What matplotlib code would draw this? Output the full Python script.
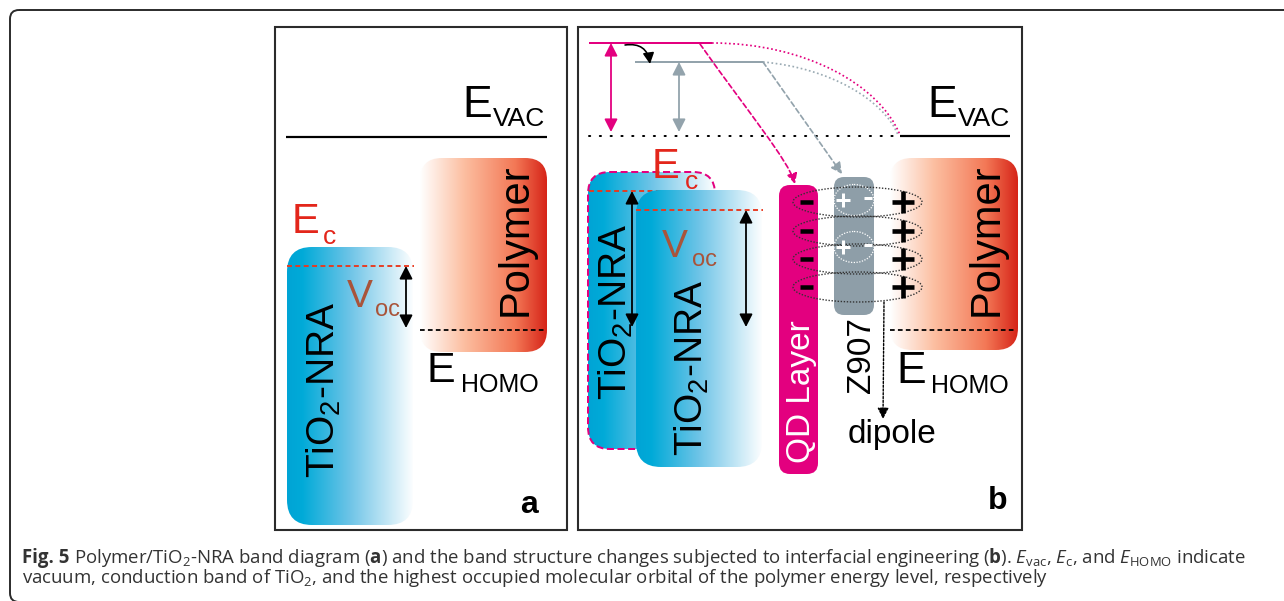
import numpy as np
import matplotlib
matplotlib.use("Agg")
import matplotlib.pyplot as plt
from matplotlib.patches import FancyBboxPatch, Ellipse, PathPatch, FancyArrowPatch
from matplotlib.path import Path

plt.rcParams["mathtext.fontset"] = "custom"
plt.rcParams["mathtext.rm"] = "Open Sans"
plt.rcParams["mathtext.it"] = "Open Sans:italic"
plt.rcParams["mathtext.bf"] = "Open Sans:bold"
plt.rcParams["mathtext.sf"] = "Liberation Sans"

# ---- diagram content (canvas units = pixels, y grows downward) ----
panel_labels = ["a", "b"]
evac_a_y = 137                 # vacuum level, panel a
evac_b_y = 136                 # shifted vacuum reference, panel b
dipole_levels_y = [43, 62]     # QD-induced and dye-induced vacuum levels
tio2_cb_y = [266, 191, 210]    # TiO2 conduction band: a, b (back), b (front)
homo_y = 330                   # polymer HOMO
voc_bottom_y = [328, 327, 327]
dipole_rows_y = [202, 231, 259, 287]
z907_pair_y = [200, 247]

W, H = 1284, 601
fig = plt.figure(figsize=(W / 100, H / 100), dpi=100)
ax = fig.add_axes([0, 0, 1, 1])
ax.axis("off")
ax.set_xlim(0, W)
ax.set_ylim(H, 0)

PX = 0.72  # points per pixel

CYAN_STOPS = [(0.0, (0, 164, 213)), (0.12, (0, 170, 216)), (0.5, (110, 196, 231)), (1.0, (252, 254, 255))]
RED_STOPS = [(0.0, (255, 255, 255)), (0.35, (252, 190, 160)), (0.75, (243, 120, 86)), (1.0, (214, 36, 24))]
MAGENTA = "#e3007f"
GRAY_BOX = "#8e9ea8"
GRAY_LINE = "#93a3ac"
RED_TXT = "#e3261b"
RED_DASH = "#e8391f"
BROWN = "#a9543a"
FONT = "Liberation Sans"


def gradient_box(x0, y0, w, h, r, stops, z):
    clip = FancyBboxPatch((x0, y0), w, h, boxstyle=f"round,pad=0,rounding_size={r}",
                          fc="none", ec="none", zorder=z)
    ax.add_patch(clip)
    pos = [s[0] for s in stops]
    cols = np.array([s[1] for s in stops], dtype=float) / 255.0
    t = np.linspace(0, 1, 400)
    rgb = np.stack([np.interp(t, pos, cols[:, i]) for i in range(3)], axis=-1)
    im = ax.imshow(rgb[None, :, :], extent=(x0, x0 + w, y0 + h, y0), aspect="auto",
                   interpolation="bilinear", zorder=z)
    im.set_clip_path(clip)


def hline(y, x0, x1, color="black", lw=2, ls="-", z=5):
    ax.plot([x0, x1], [y, y], color=color, lw=lw * PX, ls=ls, zorder=z, solid_capstyle="butt")


def darrow(x, y0, y1, color="black", lw=1.8, z=6):
    ax.annotate("", xy=(x, y1), xytext=(x, y0),
                arrowprops=dict(arrowstyle="<|-|>,head_length=0.55,head_width=0.28",
                                color=color, lw=lw * PX, mutation_scale=14,
                                shrinkA=0, shrinkB=0), zorder=z)


def txt(x, y, s, size, color="black", **kw):
    kw.setdefault("family", FONT)
    return ax.text(x, y, s, fontsize=size, color=color, zorder=8, **kw)


def rot_label(x_base, y_mid, s, size, color="black"):
    txt(x_base, y_mid, s, size, color, rotation=90, rotation_mode="anchor",
        ha="center", va="baseline")


def plus(x, y, half, lw, color):
    ax.plot([x - half, x + half], [y, y], color=color, lw=lw * PX, zorder=7, solid_capstyle="butt")
    ax.plot([x, x], [y - half, y + half], color=color, lw=lw * PX, zorder=7, solid_capstyle="butt")


def minus(x, y, half, lw, color):
    ax.plot([x - half, x + half], [y, y], color=color, lw=lw * PX, zorder=7, solid_capstyle="butt")


# ---- outer frame and panel frames ----
ax.add_patch(FancyBboxPatch((10, 10), 1320, 592, boxstyle="round,pad=0,rounding_size=9",
                            fc="none", ec="#2b2b2b", lw=1.4, zorder=1))
for (x0, x1) in [(275, 567), (578, 1022)]:
    ax.add_patch(plt.Rectangle((x0, 27), x1 - x0, 503, fc="none", ec="#2b2b2b", lw=1.5, zorder=9))

# ================= panel a =================
gradient_box(420, 158, 127, 194, 22, RED_STOPS, 2)
gradient_box(287, 247, 126, 278, 25, CYAN_STOPS, 2)
hline(evac_a_y, 286, 547, lw=2.2)
hline(tio2_cb_y[0], 287, 414, color=RED_DASH, lw=1.9, ls=(0, (2.6, 1.8)))
hline(homo_y, 420, 546, lw=1.8, ls=(0, (2.6, 1.8)))
darrow(406, tio2_cb_y[0], voc_bottom_y[0])

txt(462, 117, "E", 32, ha="left", va="baseline")
txt(493, 126, "VAC", 19, ha="left", va="baseline")
txt(427, 382, "E", 31, ha="left", va="baseline")
txt(461, 392, "HOMO", 18, ha="left", va="baseline")
txt(292, 233, "E", 30, RED_TXT, ha="left", va="baseline")
txt(323, 244, "c", 19, RED_TXT, ha="left", va="baseline")
txt(347, 307, "V", 28, BROWN, ha="left", va="baseline")
txt(375, 316, "oc", 17, BROWN, ha="left", va="baseline")
rot_label(335, 390, r"TiO$_\mathsf{2}$-NRA", 28)
rot_label(527, 240, "Polymer", 30)
txt(529, 513, panel_labels[0], 23, weight="bold", ha="center", va="baseline")

# ================= panel b =================
# dipole-shifted vacuum levels
hline(dipole_levels_y[0], 589, 712, color=MAGENTA, lw=2.0)
hline(dipole_levels_y[1], 635, 763, color=GRAY_LINE, lw=2.0)
ax.plot([589, 898], [evac_b_y, evac_b_y], color="black", lw=2.0 * PX,
        ls=(0, (0.6, 4.8)), dash_capstyle="round", zorder=5)
hline(evac_b_y, 900, 1010, lw=2.2)
darrow(611, dipole_levels_y[0], 132, color=MAGENTA)
darrow(679, dipole_levels_y[1], 132, color=GRAY_LINE)

# curved dotted links to the vacuum level
for (p0, c1, c2, p3, col) in [((712, 43), (805, 43), (880, 85), (900, 135), MAGENTA),
                              ((763, 62), (830, 68), (884, 100), (898, 135), "#9aaab3")]:
    path = Path([p0, c1, c2, p3], [Path.MOVETO, Path.CURVE4, Path.CURVE4, Path.CURVE4])
    ax.add_patch(PathPatch(path, fc="none", ec=col, lw=1.7 * PX, ls=(0, (1, 1.5)), zorder=5))

# small curved arrow between the two levels
ax.annotate("", xy=(650, 64), xytext=(625, 45),
            arrowprops=dict(arrowstyle="-|>,head_length=0.55,head_width=0.28", color="black",
                            lw=1.6 * PX, mutation_scale=12, shrinkA=0, shrinkB=0,
                            connectionstyle="arc3,rad=-0.5"), zorder=6)

# dashed arrows pointing to the QD layer and the Z907 dye
qd_path = Path([(700, 44), (748, 112), (788, 160), (795, 184)],
               [Path.MOVETO, Path.CURVE4, Path.CURVE4, Path.CURVE4])
ax.add_patch(FancyArrowPatch(path=qd_path, arrowstyle="-|>,head_length=0.5,head_width=0.25",
                             color=MAGENTA, lw=1.7 * PX, ls=(0, (3, 1.8)), mutation_scale=12,
                             zorder=6))
ax.annotate("", xy=(842, 174), xytext=(763, 62),
            arrowprops=dict(arrowstyle="-|>,head_length=0.55,head_width=0.28", color=GRAY_LINE,
                            lw=1.7 * PX, ls=(0, (3, 1.8)), mutation_scale=12, shrinkA=0, shrinkB=0),
            zorder=6)

# TiO2 bands (back one with dashed outline, front one on top)
gradient_box(588, 172, 127, 277, 22, CYAN_STOPS, 2)
ax.add_patch(FancyBboxPatch((588, 172), 127, 277, boxstyle="round,pad=0,rounding_size=22",
                            fc="none", ec=MAGENTA, lw=2.0 * PX, ls=(0, (3.5, 1.8)), zorder=3))
hline(tio2_cb_y[1], 589, 714, color=RED_DASH, lw=1.9, ls=(0, (2.6, 1.8)), z=3.5)
gradient_box(636, 190, 126, 277, 25, CYAN_STOPS, 4)
hline(tio2_cb_y[2], 636, 763, color=RED_DASH, lw=1.9, ls=(0, (2.6, 1.8)), z=5)
darrow(632, tio2_cb_y[1], voc_bottom_y[1])
darrow(746, tio2_cb_y[2], voc_bottom_y[2])

txt(652, 178, "E", 30, RED_TXT, ha="left", va="baseline")
txt(685, 189, "c", 19, RED_TXT, ha="left", va="baseline")
txt(662, 257, "V", 28, BROWN, ha="left", va="baseline")
txt(692, 266, "oc", 17, BROWN, ha="left", va="baseline")
rot_label(627, 312, r"TiO$_\mathsf{2}$-NRA", 28)
rot_label(703, 368, r"TiO$_\mathsf{2}$-NRA", 28)

# QD layer
ax.add_patch(FancyBboxPatch((779, 185), 39, 289, boxstyle="round,pad=0,rounding_size=11",
                            fc=MAGENTA, ec="none", zorder=4))
rot_label(810, 392, "QD Layer", 24, color="white")

# Z907 dye with its internal dipoles
ax.add_patch(FancyBboxPatch((834, 177), 40, 138, boxstyle="round,pad=0,rounding_size=10",
                            fc=GRAY_BOX, ec="none", zorder=4))
for yy in z907_pair_y:
    ax.add_patch(Ellipse((854, yy), 40, 31, fc="none", ec="white", lw=0.9, ls=(0, (1, 1.2)), zorder=5))
    plus(843, yy, 7, 3.0, "white")
    minus(867.5, yy - 2, 4, 3.0, "white")
rot_label(870, 355, "Z907", 24)

# polymer band, panel b
gradient_box(890, 158, 128, 192, 22, RED_STOPS, 2)
hline(homo_y, 890, 1016, lw=1.8, ls=(0, (2.6, 1.8)))
rot_label(998, 240, "Polymer", 30)

# interface dipoles
for yy in dipole_rows_y:
    ax.add_patch(Ellipse((857.5, yy), 129, 30, fc="none", ec="#333333", lw=1.0, ls=(0, (1, 1.2)), zorder=6))
    minus(806, yy, 6.5, 4.5, "black")
    plus(903, yy, 11, 4.6, "black")

ax.annotate("", xy=(883, 419), xytext=(884, 302),
            arrowprops=dict(arrowstyle="-|>,head_length=0.55,head_width=0.28", color="black",
                            lw=1.4 * PX, ls=(0, (1.5, 1.2)), mutation_scale=12, shrinkA=0, shrinkB=0),
            zorder=6)
txt(892, 443, "dipole", 24, ha="center", va="baseline")

txt(927, 117, "E", 32, ha="left", va="baseline")
txt(958, 126, "VAC", 19, ha="left", va="baseline")
txt(896, 383, "E", 32, ha="left", va="baseline")
txt(931, 393, "HOMO", 18, ha="left", va="baseline")
txt(998, 509, panel_labels[1], 23, weight="bold", ha="center", va="baseline")

# ---- caption ----
cap_head = "Fig. 5"
cap1 = (r"Polymer/TiO$_\mathrm{2}$-NRA band diagram ($\mathbf{a}$) and the band "
        r"structure changes subjected to interfacial engineering ($\mathbf{b}$). "
        r"$E_\mathrm{vac}$, $E_\mathrm{c}$, and $E_\mathrm{HOMO}$ indicate")
cap2 = (r"vacuum, conduction band of TiO$_\mathrm{2}$, and the highest occupied molecular orbital "
        r"of the polymer energy level, respectively")
CAP_SIZE = 13.4
CAP_COLOR = "#333333"
head = ax.text(22, 563, cap_head, fontsize=CAP_SIZE, family="Open Sans", weight="bold",
               color=CAP_COLOR, ha="left", va="baseline", zorder=8)
renderer = fig.canvas.get_renderer()
head_w = head.get_window_extent(renderer).width
ax.text(22 + head_w + 5, 563, cap1, fontsize=CAP_SIZE, family="Open Sans", color=CAP_COLOR,
        ha="left", va="baseline", zorder=8)
ax.text(22, 583, cap2, fontsize=CAP_SIZE, family="Open Sans", color=CAP_COLOR,
        ha="left", va="baseline", zorder=8)

ax.set_xlim(0, W)
ax.set_ylim(H, 0)
fig.savefig("out.png", dpi=100)
